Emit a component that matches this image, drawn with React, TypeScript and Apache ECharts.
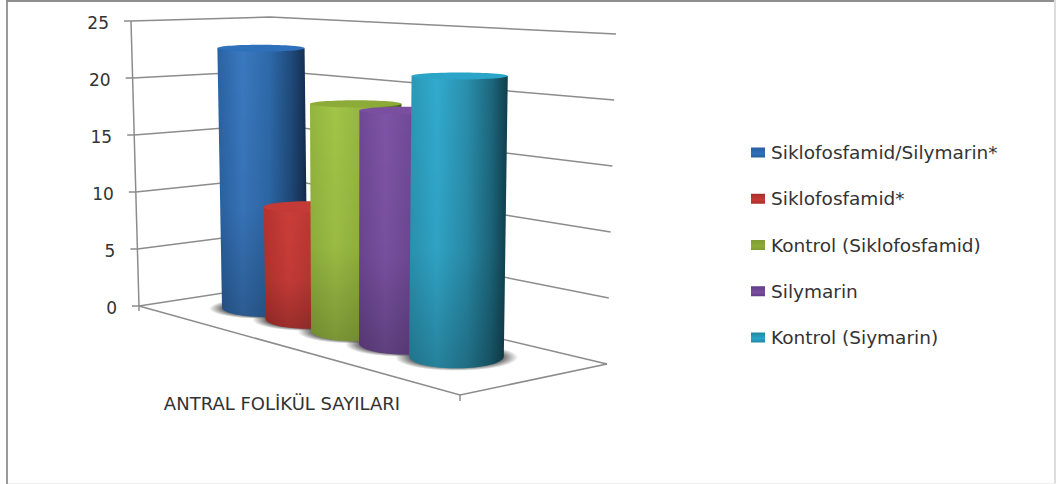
import React, { useEffect, useRef } from "react";
import * as echarts from "echarts";

// Follicle counts per treatment group
const groupNames = [
  "Siklofosfamid/Silymarin*",
  "Siklofosfamid*",
  "Kontrol (Siklofosfamid)",
  "Silymarin",
  "Kontrol (Siymarin)",
];
const groupValues = [22.7, 9.5, 18.7, 18.6, 21.7];
const tickValues = [0, 5, 10, 15, 20, 25];
const categoryLabel = "ANTRAL FOLİKÜL SAYILARI";

// Colour ramps: horizontal shading across a cylinder, then the cap colour
const bodyRamps = [
  ["#2a63a3", "#3a78bf", "#2d69a9", "#1f4a7a", "#13294a"],
  ["#b5322f", "#cb3d39", "#b83632", "#8a2522", "#5c1614"],
  ["#92b53e", "#a2c447", "#93b53f", "#6f8a2e", "#465a1c"],
  ["#6e4795", "#7d54a5", "#6f4896", "#533570", "#35214a"],
  ["#2a96b4", "#32aacd", "#2a8fad", "#1d6a80", "#103f4d"],
];
const capColors = ["#2e70ba", "#c43a36", "#8dab38", "#7a4f9f", "#2aa4c7"];
const legendColors = ["#2a5f9e", "#a82f2b", "#7f9c33", "#5f3d88", "#23869f"];

const GRID = { left: 139, top: 21, width: 321, height: 285 };
const LINE = "#8c8c8c";
const FONT_TEXT = "DejaVu Sans";

type P = [number, number];
// Box corners: left, front, right and back, on the floor and at the top of the scale
const floor: P[] = [[139, 306], [460, 395], [607, 364], [275, 285]];
const ceil: P[] = [[131, 21], [465, 44], [616, 34], [270, 17]];

const lerp = (a: number, b: number, t: number) => a + (b - a) * t;
const bilinear = (q: P[], u: number, v: number): P => {
  const lx = lerp(q[0][0], q[3][0], v);
  const ly = lerp(q[0][1], q[3][1], v);
  const rx = lerp(q[1][0], q[2][0], v);
  const ry = lerp(q[1][1], q[2][1], v);
  return [lerp(lx, rx, u), lerp(ly, ry, u)];
};
const project = (u: number, v: number, w: number): P => {
  const a = bilinear(floor, u, v);
  const b = bilinear(ceil, u, v);
  return [lerp(a[0], b[0], w), lerp(a[1], b[1], w)];
};

// Scale position of a value, as a 0-1 share of the wall height
const heightShare = (py: number) => (GRID.top + GRID.height - py) / GRID.height;
// Band centre along the front edge, with the far bars slightly foreshortened
const bandToFloor = (px: number) => {
  const i = ((px - GRID.left) / GRID.width) * 5 - 0.5;
  return 0.156 + 0.1325 * i + 0.0035 * i * i;
};
const BAR_DEPTH = 0.55;
const radiusX = (u: number) => 41.6 + 7.7 * u;
const radiusY = (y: number) => {
  const t = Math.max(0, (y - 50) / 307);
  return 3.4 + 8.6 * t * t;
};

const wallItem = (params: any, api: any) => {
  const value = api.value(0);
  const w = heightShare(api.coord([0, value])[1]);
  const left = project(0, 0, w);
  const back = project(0, 1, w);
  const right = project(1, 1, w);
  const stroke = { stroke: LINE, lineWidth: 1.5, fill: "none" };
  const children: any[] = [
    {
      type: "polyline",
      shape: { points: [[left[0] - 7, left[1]], left, back, right] },
      style: stroke,
    },
    {
      type: "text",
      style: {
        text: String(value),
        x: left[0] - 22,
        y: left[1] + 1.5,
        align: "right",
        verticalAlign: "middle",
        fill: "#333",
        fontSize: 17,
        fontFamily: FONT_TEXT,
      },
    },
  ];
  if (params.dataIndex === 0) {
    const a = project(0, 0, 0);
    const b = project(1, 0, 0);
    const c = project(1, 1, 0);
    const top = project(0, 0, 1);
    children.push(
      { type: "polyline", shape: { points: [a, b, c] }, style: stroke },
      { type: "polyline", shape: { points: [top, a, [a[0], a[1] + 5]] }, style: stroke },
      { type: "polyline", shape: { points: [b, [b[0], b[1] + 6]] }, style: stroke },
      {
        type: "text",
        style: {
          text: categoryLabel,
          x: 282,
          y: 403,
          align: "center",
          verticalAlign: "middle",
          fill: "#333",
          fontSize: 18,
          fontFamily: FONT_TEXT,
        },
      }
    );
  }
  return { type: "group", children };
};

const shadowItem = (_params: any, api: any) => {
  const u = bandToFloor(api.coord([api.value(0), 0])[0]);
  const base = project(u, BAR_DEPTH, 0);
  const rx = radiusX(u);
  const ry = radiusY(base[1]);
  return {
    type: "ellipse",
    shape: { cx: base[0], cy: base[1] + 1, rx: rx * 1.3, ry: ry * 1.12 },
    style: {
      fill: new echarts.graphic.RadialGradient(0.5, 0.5, 0.5, [
        { offset: 0, color: "rgba(40,40,40,0.7)" },
        { offset: 0.76, color: "rgba(40,40,40,0.66)" },
        { offset: 1, color: "rgba(40,40,40,0)" },
      ]),
    },
  };
};

const cylinderItem = (groupIndex: number) => (_params: any, api: any) => {
  const index = api.value(0);
  const u = bandToFloor(api.coord([index, 0])[0]);
  const w = heightShare(api.coord([index, api.value(1)])[1]);
  const base = project(u, BAR_DEPTH, 0);
  const top = project(u, BAR_DEPTH, w);
  const rxBase = radiusX(u);
  const rxTop = rxBase + 0.8;
  const ryBase = radiusY(base[1]);
  const ryTop = radiusY(top[1]);

  const outline: number[][] = [
    [top[0] - rxTop, top[1]],
    [top[0] + rxTop, top[1]],
  ];
  for (let k = 0; k <= 40; k++) {
    const a = (Math.PI * k) / 40;
    outline.push([base[0] + rxBase * Math.cos(a), base[1] + ryBase * Math.sin(a)]);
  }
  const ramp = bodyRamps[groupIndex];
  const stops = [0, 0.28, 0.58, 0.82, 1];
  return {
    type: "group",
    children: [
      {
        type: "polygon",
        shape: { points: outline },
        style: {
          fill: new echarts.graphic.LinearGradient(
            0, 0, 1, 0,
            ramp.map((color, n) => ({ offset: stops[n], color }))
          ),
        },
      },
      {
        type: "polygon",
        shape: { points: outline },
        style: {
          fill: new echarts.graphic.LinearGradient(0, 0, 0, 1, [
            { offset: 0, color: "rgba(0,0,0,0)" },
            { offset: 0.6, color: "rgba(0,0,0,0.05)" },
            { offset: 1, color: "rgba(0,0,0,0.24)" },
          ]),
        },
      },
      {
        type: "ellipse",
        shape: { cx: top[0], cy: top[1], rx: rxTop, ry: ryTop },
        style: { fill: capColors[groupIndex] },
      },
    ],
  };
};

export default function App() {
  const ref = useRef<HTMLDivElement>(null);

  useEffect(() => {
    const chart = echarts.init(ref.current!, null, { renderer: "svg" });
    const rows = groupValues.map((value, i) => [i, value]);
    chart.setOption({
      animation: false,
      backgroundColor: "#ffffff",
      grid: { ...GRID, containLabel: false },
      xAxis: { type: "category", data: groupNames, show: false },
      yAxis: { type: "value", min: 0, max: 25, interval: 5, show: false },
      legend: {
        orient: "vertical",
        left: 751,
        top: 143,
        padding: 0,
        itemWidth: 14,
        itemHeight: 10,
        itemGap: 27.25,
        selectedMode: false,
        textStyle: { fontFamily: FONT_TEXT, fontSize: 18.5, color: "#333", padding: [0, 0, 0, 1] },
        data: groupNames.map((name, i) => ({
          name,
          icon: "rect",
          itemStyle: {
            color: new echarts.graphic.LinearGradient(0, 0, 0, 1, [
              { offset: 0, color: legendColors[i] },
              { offset: 0.6, color: capColors[i] },
              { offset: 1, color: legendColors[i] },
            ]),
          },
        })),
      },
      graphic: [
        { type: "rect", shape: { x: 6, y: 0, width: 2, height: 484 }, style: { fill: "#9a9a9a" } },
        { type: "rect", shape: { x: 6, y: 0, width: 1050, height: 2 }, style: { fill: "#8e8e8e" } },
        { type: "rect", shape: { x: 1054, y: 0, width: 2, height: 484 }, style: { fill: "#dddddd" } },
        { type: "rect", shape: { x: 8, y: 483, width: 1048, height: 1 }, style: { fill: "#eeeeee" } },
      ],
      series: [
        {
          type: "custom",
          name: "walls",
          silent: true,
          coordinateSystem: "cartesian2d",
          data: tickValues.map((t) => [t]),
          encode: { y: 0 },
          renderItem: wallItem,
        },
        {
          type: "custom",
          name: "shadows",
          silent: true,
          coordinateSystem: "cartesian2d",
          data: rows,
          renderItem: shadowItem,
        },
        ...groupNames.map((name, i) => ({
          type: "custom",
          name,
          coordinateSystem: "cartesian2d",
          data: [rows[i]],
          renderItem: cylinderItem(i),
        })),
      ],
    });
    return () => chart.dispose();
  }, []);

  return (
    <div
      ref={ref}
      style={{ position: "fixed", left: 0, top: 0, width: 1056, height: 484 }}
    />
  );
}
